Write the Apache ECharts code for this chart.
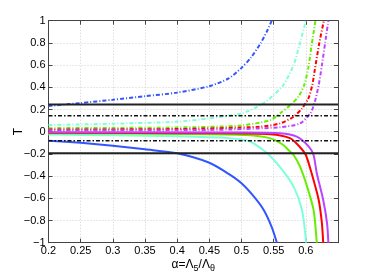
<!DOCTYPE html>
<html><head><meta charset="utf-8">
<script src="https://cdn.jsdelivr.net/npm/echarts@6/dist/echarts.min.js"></script>
<style>html,body{margin:0;padding:0;background:#fff}#c{width:374px;height:274px}</style>
</head><body><div id="c"></div>
<script>
// ---- data ----
var xTicks = [0.2, 0.25, 0.3, 0.35, 0.4, 0.45, 0.5, 0.55, 0.6, 0.65];
var yTicks = [-1, -0.8, -0.6, -0.4, -0.2, 0, 0.2, 0.4, 0.6, 0.8, 1];
var seriesNames = ['blue', 'cyan', 'green', 'red', 'magenta'];
var seriesColors = ['#3355ff', '#7fffd9', '#66ee00', '#ff0000', '#bb44ff'];

var blueUp = [[0.2,0.232],[0.25,0.258],[0.3,0.288],[0.35,0.32],[0.4,0.352],[0.45,0.41],[0.48,0.48],[0.5,0.575],[0.515,0.67],[0.53,0.8],[0.54,0.91],[0.547,1.0]];
var blueDown = [[0.2,-0.081],[0.25,-0.1],[0.3,-0.126],[0.35,-0.159],[0.4,-0.195],[0.45,-0.28],[0.48,-0.38],[0.5,-0.465],[0.52,-0.59],[0.535,-0.71],[0.547,-0.86],[0.555,-1]];
var cyanUp = [[0.2,0.06],[0.3,0.072],[0.4,0.09],[0.45,0.12],[0.5,0.165],[0.53,0.24],[0.55,0.33],[0.565,0.42],[0.581,0.6],[0.591,0.8],[0.6,1.0]];
var cyanDown = [[0.2,-0.025],[0.3,-0.032],[0.4,-0.042],[0.48,-0.058],[0.508,-0.078],[0.52,-0.11],[0.54,-0.195],[0.56,-0.32],[0.581,-0.495],[0.594,-0.705],[0.6005,-1]];
var greenUp = [[0.2,0.032],[0.3,0.034],[0.4,0.038],[0.5,0.056],[0.545,0.105],[0.56,0.165],[0.576,0.24],[0.589,0.32],[0.598,0.43],[0.604,0.58],[0.609,0.78],[0.615,1.0]];
var greenDown = [[0.2,-0.015],[0.4,-0.02],[0.508,-0.03],[0.545,-0.06],[0.565,-0.12],[0.573,-0.165],[0.581,-0.21],[0.591,-0.315],[0.602,-0.495],[0.612,-0.705],[0.617,-1]];
var redUp = [[0.2,0.02],[0.4,0.024],[0.529,0.045],[0.56,0.075],[0.581,0.135],[0.594,0.21],[0.604,0.3],[0.61,0.42],[0.614,0.56],[0.621,0.8],[0.628,1.0]];
var redDown = [[0.2,-0.009],[0.45,-0.014],[0.545,-0.023],[0.576,-0.06],[0.591,-0.14],[0.6,-0.21],[0.609,-0.375],[0.62,-0.615],[0.625,-0.825],[0.627,-1]];
var magentaUp = [[0.2,0.012],[0.45,0.016],[0.56,0.04],[0.591,0.075],[0.607,0.165],[0.614,0.27],[0.62,0.42],[0.625,0.6],[0.63,0.8],[0.635,1.0]];
var magentaDown = [[0.2,-0.004],[0.5,-0.008],[0.56,-0.015],[0.586,-0.045],[0.604,-0.13],[0.612,-0.21],[0.617,-0.375],[0.627,-0.615],[0.633,-0.825],[0.635,-1]];
var solidBounds = [0.245, -0.195];
var dashDotBounds = [0.144, -0.081];

var upSets = [blueUp, cyanUp, greenUp, redUp, magentaUp];
var downSets = [blueDown, cyanDown, greenDown, redDown, magentaDown];

// ---- chart ----
var chart = echarts.init(document.getElementById('c'), null, {renderer: 'canvas'});
var FONT = 'Liberation Sans';
var xMin = xTicks[0], xMax = xTicks[xTicks.length - 1];
var series = [];
for (var i = 0; i < seriesNames.length; i++) {
  series.push({name: seriesNames[i] + ' down', type: 'line', data: downSets[i], showSymbol: false, smooth: 0.25, silent: true,
    lineStyle: {color: seriesColors[i], width: 2, type: 'solid'}, z: 2});
  series.push({name: seriesNames[i] + ' up', type: 'line', data: upSets[i], showSymbol: false, smooth: 0.25, silent: true,
    lineStyle: {color: seriesColors[i], width: 2, type: [4, 2, 1, 2]}, z: 2});
}
solidBounds.forEach(function (v) {
  series.push({type: 'line', data: [[xMin, v], [xMax, v]], showSymbol: false, silent: true,
    lineStyle: {color: '#222', width: 2, type: 'solid'}, z: 3});
});
dashDotBounds.forEach(function (v) {
  series.push({type: 'line', data: [[xMin, v], [xMax, v]], showSymbol: false, silent: true,
    lineStyle: {color: '#111', width: 1.6, type: [4, 2, 1.5, 2]}, z: 3});
});

var axisCommon = {
  axisLine: {show: true, onZero: false, lineStyle: {color: '#444', width: 1}},
  axisTick: {show: true, inside: true, length: 4, lineStyle: {color: '#444'}},
};
function fmt(v) {
  var s = String(Math.round(v * 100) / 100);
  return s.replace('-', '\u2212');
}
var option = {
  animation: false,
  backgroundColor: '#fff',
  grid: {left: 48.5, right: 36, top: 20.7, bottom: 31.3, containLabel: false, outerBoundsMode: 'none'},
  xAxis: [{
    type: 'value', min: xMin, max: xMax, interval: 0.05,
    axisLine: axisCommon.axisLine, axisTick: axisCommon.axisTick,
    axisLabel: {color: '#000', fontFamily: FONT, fontSize: 11, margin: 3,
      formatter: function (v) { return Math.abs(v - xMax) < 1e-9 ? '' : fmt(v); }},
    splitLine: {show: true, lineStyle: {color: '#d0d0d0', type: [1, 2], width: 1}},
    name: '{a|\u03b1=\u039b}{s|5}{a|/\u039b}{s|\u03b8}', nameLocation: 'middle', nameGap: 14,
    nameMoveOverlap: false,
    nameTextStyle: {rich: {
      a: {fontFamily: FONT, fontSize: 12, color: '#000'},
      s: {fontFamily: FONT, fontSize: 9, color: '#000', padding: [7, 0, 0, 0]}
    }}
  }, {
    type: 'value', position: 'top', min: xMin, max: xMax, interval: 0.05,
    axisLine: axisCommon.axisLine, axisTick: axisCommon.axisTick,
    axisLabel: {show: false}, splitLine: {show: false}
  }],
  yAxis: [{
    type: 'value', min: -1, max: 1, interval: 0.2,
    axisLine: axisCommon.axisLine, axisTick: axisCommon.axisTick,
    axisLabel: {color: '#000', fontFamily: FONT, fontSize: 11, margin: 3, formatter: fmt},
    splitLine: {show: true, lineStyle: {color: '#d0d0d0', type: [1, 2], width: 1}},
    name: 'T', nameLocation: 'middle', nameGap: 24, nameMoveOverlap: false,
    nameTextStyle: {fontFamily: FONT, fontSize: 12, color: '#000'}
  }, {
    type: 'value', position: 'right', min: -1, max: 1, interval: 0.2,
    axisLine: axisCommon.axisLine, axisTick: axisCommon.axisTick,
    axisLabel: {show: false}, splitLine: {show: false}
  }],
  series: series
};
chart.setOption(option);
</script>
</body></html>
